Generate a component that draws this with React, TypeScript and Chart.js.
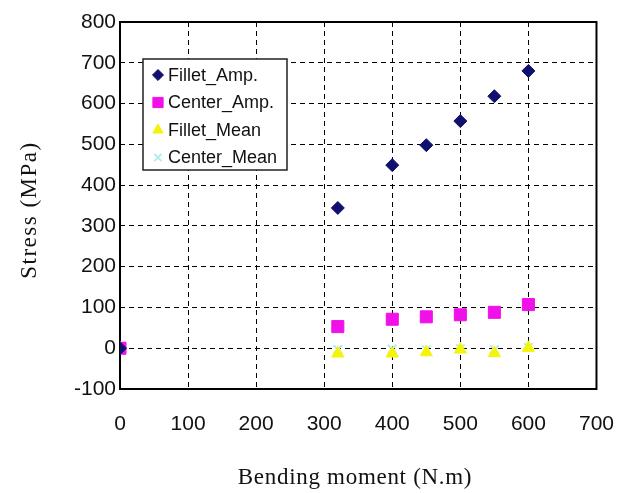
import React, { useEffect, useRef } from 'react';
import { Chart, registerables } from 'chart.js';
import { drawPoint } from 'chart.js/helpers';

Chart.register(...registerables);

// Bending moment (N.m) at each test load
const moments = [0, 320, 400, 450, 500, 550, 600];

// Stress (MPa) per measurement location
const filletAmp = [0, 344, 449, 498, 557, 618, 680];
const centerAmp = [0, 53, 71, 77, 82, 88, 107];
const filletMean = [0, -13, -13, -10, -3, -12, 1];
const centerMean = [0, -3, -2, -4, -1, -3, 2];

const seriesNames = ['Fillet_Amp.', 'Center_Amp.', 'Fillet_Mean', 'Center_Mean'];

const momentRange = [0, 700];
const stressRange = [-100, 800];
const tickStep = 100;

const xTitle = 'Bending moment (N.m)';
const yTitle = 'Stress (MPa)';

const sans = "'Liberation Sans', Arial, sans-serif";
const serif = "'Liberation Serif', 'DejaVu Serif', serif";

const toPoints = (ys: number[]) => moments.map((x, i) => ({ x, y: ys[i] }));

const chartDecor = {
  id: 'chartDecor',
  beforeDatasetsDraw(chart: any) {
    const { ctx, chartArea: a } = chart;
    ctx.save();
    ctx.strokeStyle = '#000';
    ctx.lineWidth = 2;
    ctx.setLineDash([]);
    ctx.strokeRect(a.left, a.top, a.right - a.left, a.bottom - a.top);
    ctx.restore();
  },
  afterDraw(chart: any) {
    const { ctx, chartArea: a } = chart;

    // legend box inside the plot area
    const bx = a.left + 23;
    const by = a.top + 37;
    const bw = 144;
    const bh = 111;
    ctx.save();
    ctx.fillStyle = '#fff';
    ctx.fillRect(bx, by, bw, bh);
    ctx.strokeStyle = '#222';
    ctx.lineWidth = 1.5;
    ctx.strokeRect(bx, by, bw, bh);
    ctx.font = `18px ${sans}`;
    ctx.textBaseline = 'middle';
    ctx.textAlign = 'left';
    chart.data.datasets.forEach((ds: any, i: number) => {
      const cy = by + 16 + i * 27.5;
      ctx.save();
      ctx.fillStyle = ds.backgroundColor;
      ctx.strokeStyle = ds.borderColor;
      ctx.lineWidth = ds.borderWidth;
      drawPoint(ctx, { pointStyle: ds.pointStyle, radius: ds.pointRadius * 0.85, rotation: 0, borderWidth: ds.borderWidth }, bx + 15, cy);
      ctx.restore();
      ctx.fillStyle = '#111';
      ctx.fillText(ds.label, bx + 25, cy + 1);
    });
    ctx.restore();

    // axis titles
    ctx.save();
    ctx.fillStyle = '#111';
    ctx.font = `23px ${serif}`;
    ctx.textAlign = 'center';
    ctx.textBaseline = 'middle';
    (ctx as any).letterSpacing = '0.7px';
    ctx.fillText(xTitle, a.left + 235, a.bottom + 89);
    (ctx as any).letterSpacing = '1.5px';
    ctx.translate(30, a.top + 188);
    ctx.rotate(-Math.PI / 2);
    ctx.fillText(yTitle, 0, 0);
    ctx.restore();
  },
};

export default function App() {
  const ref = useRef<HTMLCanvasElement>(null);

  useEffect(() => {
    const gridStyle = { color: '#000', lineWidth: 1, drawTicks: false };
    const borderStyle = { display: false, dash: [5, 4] };
    const tickFont = { family: sans, size: 21 };

    const chart = new Chart(ref.current as HTMLCanvasElement, {
      type: 'scatter',
      data: {
        datasets: [
          {
            label: seriesNames[0],
            data: toPoints(filletAmp),
            pointStyle: 'rectRot',
            pointRadius: 6.5,
            backgroundColor: '#10106e',
            borderColor: '#10106e',
            borderWidth: 1,
          },
          {
            label: seriesNames[1],
            data: toPoints(centerAmp),
            pointStyle: 'rect',
            pointRadius: 8.5,
            backgroundColor: '#f010e8',
            borderColor: '#f010e8',
            borderWidth: 1,
          },
          {
            label: seriesNames[2],
            data: toPoints(filletMean),
            pointStyle: 'triangle',
            pointRadius: 7,
            backgroundColor: '#f4f40a',
            borderColor: '#f4f40a',
            borderWidth: 1,
          },
          {
            label: seriesNames[3],
            data: toPoints(centerMean),
            pointStyle: 'crossRot',
            pointRadius: 6,
            backgroundColor: '#b4ecec',
            borderColor: '#b4ecec',
            borderWidth: 2,
          },
        ],
      },
      options: {
        responsive: false,
        maintainAspectRatio: false,
        animation: false,
        events: [],
        layout: { padding: { top: 22, right: 19, left: 0, bottom: 0 } },
        plugins: {
          legend: { display: false },
          tooltip: { enabled: false },
        },
        scales: {
          x: {
            type: 'linear',
            position: 'bottom',
            min: momentRange[0],
            max: momentRange[1],
            ticks: { stepSize: tickStep, color: '#111', font: tickFont, padding: 23, maxRotation: 0 },
            grid: gridStyle,
            border: borderStyle,
            afterFit: (scale: any) => {
              scale.height = 104;
            },
          },
          y: {
            type: 'linear',
            min: stressRange[0],
            max: stressRange[1],
            ticks: { stepSize: tickStep, color: '#111', font: tickFont, padding: 4 },
            grid: gridStyle,
            border: borderStyle,
            afterFit: (scale: any) => {
              scale.width = 120;
            },
          },
        },
      },
      plugins: [chartDecor],
    } as any);

    return () => chart.destroy();
  }, []);

  return (
    <div style={{ position: 'fixed', left: 0, top: 0, width: 637, height: 493, background: '#fff' }}>
      <canvas ref={ref} width={637} height={493} style={{ display: 'block' }} />
    </div>
  );
}
